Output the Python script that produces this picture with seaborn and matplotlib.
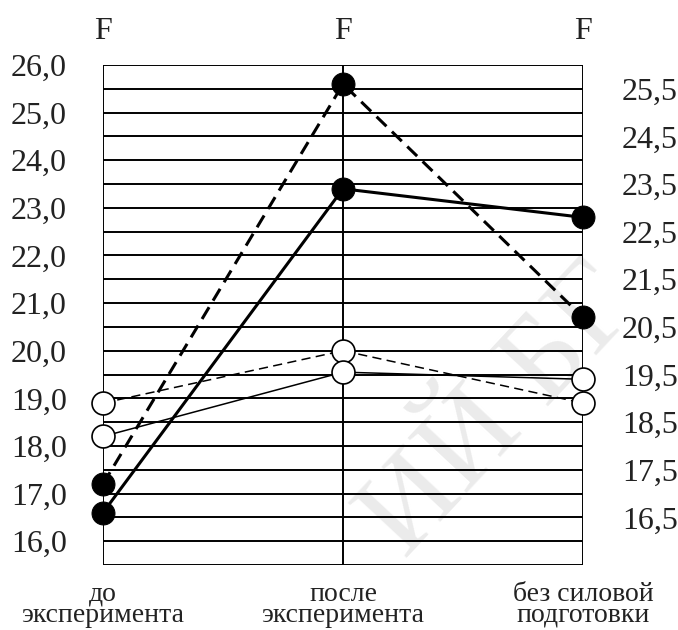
import matplotlib
matplotlib.use("Agg")
import matplotlib.pyplot as plt
import seaborn as sns

# ---- data ----
categories = ["до\nэксперимента", "после\nэксперимента", "без силовой\nподготовки"]
top_labels = ["F", "F", "F"]
left_ticks = [16.0, 17.0, 18.0, 19.0, 20.0, 21.0, 22.0, 23.0, 24.0, 25.0, 26.0]
right_ticks = [16.5, 17.5, 18.5, 19.5, 20.5, 21.5, 22.5, 23.5, 24.5, 25.5]
grid_levels = [15.5, 16.0, 16.5, 17.0, 17.5, 18.0, 18.5, 19.0, 19.5, 20.0, 20.5,
               21.0, 21.5, 22.0, 22.5, 23.0, 23.5, 24.0, 24.5, 25.0, 25.5, 26.0]

filled_dashed = [17.2, 25.6, 20.7]
filled_solid = [16.6, 23.4, 22.8]
open_dashed = [18.9, 20.0, 18.9]
open_solid = [18.2, 19.55, 19.4]

sns.set_theme(style="white")
plt.rcParams["font.family"] = ["Liberation Serif", "DejaVu Serif"]

fig = plt.figure(figsize=(6.78, 6.3), dpi=100)
ax = fig.add_axes([103 / 678, 1 - 565 / 630, 480 / 678, 500 / 630])

pos = list(range(len(categories)))

for lv in grid_levels:
    ax.axhline(lv, color="black", lw=1.4, zorder=1)
for p in pos:
    ax.axvline(p, color="black", lw=1.4, zorder=1)

ms = 16.5
sns.lineplot(x=pos, y=open_dashed, ax=ax, color="black", lw=1.1,
             linestyle=(0, (6, 3.5)), marker="o", markersize=ms,
             markerfacecolor="white", markeredgecolor="black",
             markeredgewidth=1.2, clip_on=False, zorder=3)
sns.lineplot(x=pos, y=open_solid, ax=ax, color="black", lw=1.1,
             linestyle="-", marker="o", markersize=ms,
             markerfacecolor="white", markeredgecolor="black",
             markeredgewidth=1.2, clip_on=False, zorder=3)
sns.lineplot(x=pos, y=filled_dashed, ax=ax, color="black", lw=2.2,
             linestyle=(0, (4.5, 2.5)), marker="o", markersize=ms,
             markerfacecolor="black", markeredgecolor="black",
             clip_on=False, zorder=4)
sns.lineplot(x=pos, y=filled_solid, ax=ax, color="black", lw=2.2,
             linestyle="-", marker="o", markersize=ms,
             markerfacecolor="black", markeredgecolor="black",
             clip_on=False, zorder=4)

ax.set_xlim(0, 2)
ax.set_ylim(15.5, 26.0)
for s in ax.spines.values():
    s.set_visible(False)

fs = 23
ax.set_yticks(left_ticks)
ax.set_yticklabels([f"{v:.1f}".replace(".", ",") for v in left_ticks], fontsize=fs)
ax.set_xticks(pos)
ax.set_xticklabels(categories, fontsize=20, linespacing=0.8)
ax.tick_params(axis="y", length=0, pad=36 * 0.72, colors="#222222")
ax.tick_params(axis="x", length=0, pad=12, colors="#222222")

ax2 = ax.twinx()
ax2.set_ylim(15.5, 26.0)
ax2.set_yticks(right_ticks)
ax2.set_yticklabels([f"{v:.1f}".replace(".", ",") for v in right_ticks], fontsize=fs)
ax2.tick_params(axis="y", length=0, pad=39 * 0.72, colors="#222222")
for s in ax2.spines.values():
    s.set_visible(False)

top = ax.secondary_xaxis("top")
top.set_xticks(pos)
top.set_xticklabels(top_labels, fontsize=fs)
top.tick_params(length=0, pad=14, colors="#222222")
for s in top.spines.values():
    s.set_visible(False)

ax.set_xlabel("")
ax.set_ylabel("")

# faint watermark
ax.text(502 / 678, 1 - 412 / 630, "ИЙ БГ", transform=fig.transFigure,
        rotation=47, fontsize=88, color="#ebebeb", ha="center", va="center",
        zorder=0.5, clip_on=False)

fig.savefig("out.png", dpi=100)
